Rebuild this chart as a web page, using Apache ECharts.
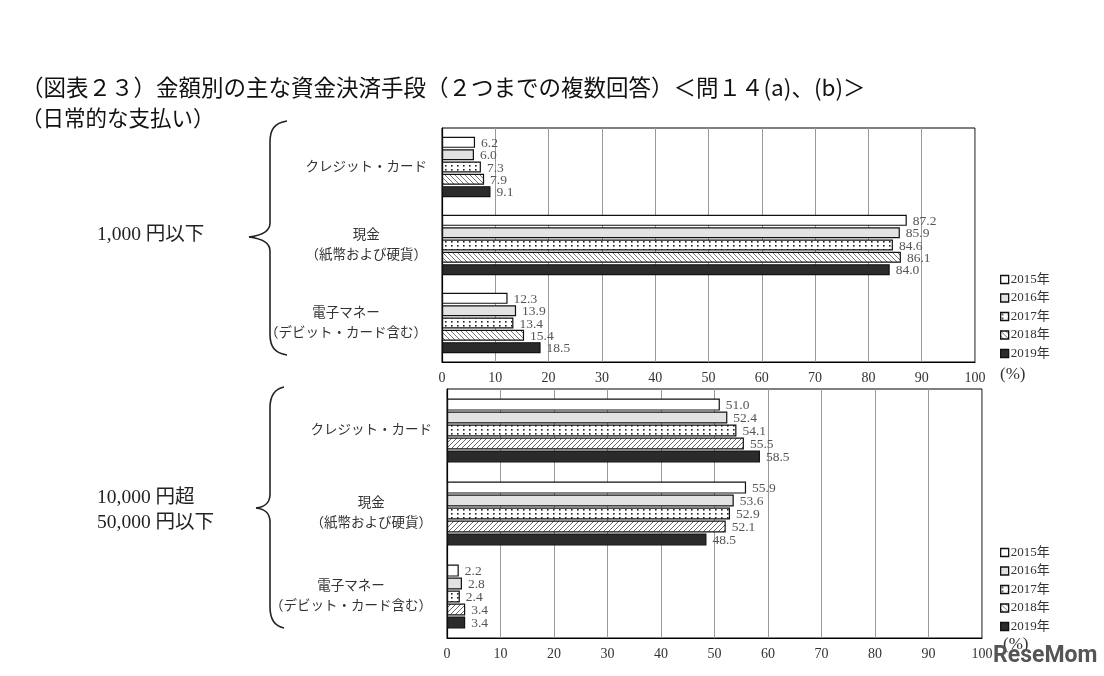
<!DOCTYPE html>
<html><head><meta charset="utf-8">
<script src="https://cdn.jsdelivr.net/npm/echarts@6/dist/echarts.min.js"></script>
<style>html,body{margin:0;padding:0;background:#fff}#c{width:1104px;height:676px}</style>
</head><body><div id="c"></div>
<script>
// ---- data ----
const categories = ['クレジット・カード', '現金\n（紙幣および硬貨）', '電子マネー\n（デビット・カード含む）'];
const years = ['2015年', '2016年', '2017年', '2018年', '2019年'];
const tickValues = [0, 10, 20, 30, 40, 50, 60, 70, 80, 90, 100];
// panel 1: 1,000円以下  (order: credit, cash, e-money)
const low2015 = [6.2, 87.2, 12.3];
const low2016 = [6.0, 85.9, 13.9];
const low2017 = [7.3, 84.6, 13.4];
const low2018 = [7.9, 86.1, 15.4];
const low2019 = [9.1, 84.0, 18.5];
// panel 2: 10,000円超 50,000円以下
const mid2015 = [51.0, 55.9, 2.2];
const mid2016 = [52.4, 53.6, 2.8];
const mid2017 = [54.1, 52.9, 2.4];
const mid2018 = [55.5, 52.1, 3.4];
const mid2019 = [58.5, 48.5, 3.4];

const lowData = [low2015, low2016, low2017, low2018, low2019];
const midData = [mid2015, mid2016, mid2017, mid2018, mid2019];

// ---- patterns ----
function makePattern(kind) {
  const c = document.createElement('canvas');
  const ctx = c.getContext('2d');
  if (kind === 'dots') {
    c.width = 6; c.height = 4;
    ctx.fillStyle = '#fff'; ctx.fillRect(0, 0, 6, 4);
    ctx.fillStyle = '#222'; ctx.fillRect(1, 1, 1.6, 1.6);
  } else if (kind === 'back') {
    c.width = 5; c.height = 5;
    ctx.fillStyle = '#fff'; ctx.fillRect(0, 0, 5, 5);
    ctx.strokeStyle = '#777'; ctx.lineWidth = 1;
    ctx.beginPath(); ctx.moveTo(0, 0); ctx.lineTo(5, 5); ctx.moveTo(-1, 4); ctx.lineTo(1, 6); ctx.moveTo(4, -1); ctx.lineTo(6, 1); ctx.stroke();
  } else {
    c.width = 5; c.height = 5;
    ctx.fillStyle = '#fff'; ctx.fillRect(0, 0, 5, 5);
    ctx.strokeStyle = '#666'; ctx.lineWidth = 1;
    ctx.beginPath(); ctx.moveTo(0, 5); ctx.lineTo(5, 0); ctx.moveTo(-1, 1); ctx.lineTo(1, -1); ctx.moveTo(4, 6); ctx.lineTo(6, 4); ctx.stroke();
  }
  return { image: c, repeat: 'repeat' };
}
const fillsTop = ['#ffffff', '#e2e2e2', makePattern('dots'), makePattern('back'), '#2b2b2b'];
const fillsBot = ['#ffffff', '#e2e2e2', makePattern('dots'), makePattern('fwd'), '#2b2b2b'];

const serif = '"Liberation Serif", "Noto Sans CJK JP", serif';

function xAxisCfg(idx) {
  return {
    gridIndex: idx, type: 'value', min: 0, max: 100, interval: 10,
    axisLine: { show: true, lineStyle: { color: '#000', width: 1 } },
    axisTick: { show: false },
    splitLine: { show: true, lineStyle: { color: '#9a9a9a', width: 1 } },
    axisLabel: { fontFamily: serif, fontSize: 14, color: '#333', margin: 9,
      formatter: v => tickValues.includes(v) ? String(v) : '' }
  };
}
function yAxisCfg(idx, margin) {
  return {
    gridIndex: idx, type: 'category', inverse: true, data: categories,
    axisLine: { show: true, lineStyle: { color: '#000', width: 1.2 } },
    axisTick: { show: false },
    axisLabel: {
      fontFamily: serif, fontSize: 13.5, color: '#333', align: 'right', margin: margin, lineHeight: 20,
      formatter: v => v.split('\n').map(s => '{c|' + s + '}').join('\n'),
      rich: { c: { align: 'center', fontFamily: serif, fontSize: 13.5, color: '#333', lineHeight: 20 } }
    }
  };
}

const series = [];
[lowData, midData].forEach((panel, p) => {
  panel.forEach((vals, i) => {
    series.push({
      type: 'bar', name: years[i], xAxisIndex: p, yAxisIndex: p,
      data: vals,
      barWidth: p === 0 ? 11 : 12,
      barGap: p === 0 ? '12%' : '8%',
      itemStyle: { color: (p === 0 ? fillsTop : fillsBot)[i], borderColor: '#111', borderWidth: 1.2 },
      label: { show: true, position: 'right', distance: 6, offset: [0, 1], fontFamily: serif, fontSize: 13.5, color: '#555',
        formatter: d => d.value.toFixed(1) },
      emphasis: { disabled: true },
      animation: false
    });
  });
});

function brace(xEnd, yTop, xStem, xCusp, yCusp, yBot) {
  const st = { stroke: '#222', lineWidth: 1.6, fill: 'none' };
  const r = 14;
  return [
    { type: 'bezierCurve', shape: { x1: xEnd, y1: yTop, cpx1: xStem + 4, cpy1: yTop + 2, cpx2: xStem, cpy2: yTop + 9, x2: xStem, y2: yTop + r + 7 }, style: st },
    { type: 'line', shape: { x1: xStem, y1: yTop + r + 7, x2: xStem, y2: yCusp - r }, style: st },
    { type: 'bezierCurve', shape: { x1: xStem, y1: yCusp - r, cpx1: xStem, cpy1: yCusp - 4, cpx2: xCusp + 8, cpy2: yCusp - 1, x2: xCusp, y2: yCusp }, style: st },
    { type: 'bezierCurve', shape: { x1: xCusp, y1: yCusp, cpx1: xCusp + 8, cpy1: yCusp + 1, cpx2: xStem, cpy2: yCusp + 4, x2: xStem, y2: yCusp + r }, style: st },
    { type: 'line', shape: { x1: xStem, y1: yCusp + r, x2: xStem, y2: yBot - r - 7 }, style: st },
    { type: 'bezierCurve', shape: { x1: xStem, y1: yBot - r - 7, cpx1: xStem, cpy1: yBot - 9, cpx2: xStem + 4, cpy2: yBot - 2, x2: xEnd, y2: yBot }, style: st }
  ];
}

const legendBase = {
  orient: 'vertical', data: years, itemWidth: 8, itemHeight: 8, itemGap: 5.5,
  icon: 'rect', selectedMode: false,
  itemStyle: { borderColor: '#111', borderWidth: 1.3 },
  textStyle: { fontFamily: serif, fontSize: 13, color: '#333', padding: [0, 0, 0, -3] }
};

const chart = echarts.init(document.getElementById('c'), null, { renderer: 'canvas' });
chart.setOption({
  animation: false,
  backgroundColor: '#fff',
  grid: [
    { left: 442, top: 128, width: 533, height: 234, show: true, borderColor: '#000', borderWidth: 1, backgroundColor: 'transparent' },
    { left: 447, top: 389, width: 535, height: 249, show: true, borderColor: '#000', borderWidth: 1, backgroundColor: 'transparent' }
  ],
  xAxis: [xAxisCfg(0), xAxisCfg(1)],
  yAxis: [yAxisCfg(0, 15), yAxisCfg(1, 15)],
  legend: [
    Object.assign({}, legendBase, { left: 995, top: 268 }),
    Object.assign({}, legendBase, { left: 995, top: 541 })
  ],
  series: series,
  graphic: [
    { type: 'text', left: 21, top: 76, style: { text: '（図表２３）金額別の主な資金決済手段（２つまでの複数回答）＜問１４(a)、(b)＞', font: '22.5px "Noto Sans CJK JP"', fill: '#111' } },
    { type: 'text', left: 21, top: 107, style: { text: '（日常的な支払い）', font: '21.5px "Noto Sans CJK JP"', fill: '#111' } },
    { type: 'group', children: brace(287, 121, 270, 249, 237, 355) },
    { type: 'group', children: brace(284, 387, 270, 256, 508, 628) },
    { type: 'text', left: 97, top: 225, style: { text: '1,000 円以下', font: '19.5px ' + serif, fill: '#222' } },
    { type: 'text', left: 97, top: 485, style: { text: '10,000 円超\n50,000 円以下', font: '19.5px ' + serif, fill: '#222', lineHeight: 25 } },
    { type: 'text', left: 1000, top: 366, style: { text: '(%)', font: '17px ' + serif, fill: '#333' } },
    { type: 'text', left: 1003, top: 636, style: { text: '(%)', font: '17px ' + serif, fill: '#333' } },
    { type: 'text', left: 993, top: 645, style: { text: 'ReseMom', font: 'bold 23px Roboto', fill: '#555' } }
  ]
});
</script></body></html>
